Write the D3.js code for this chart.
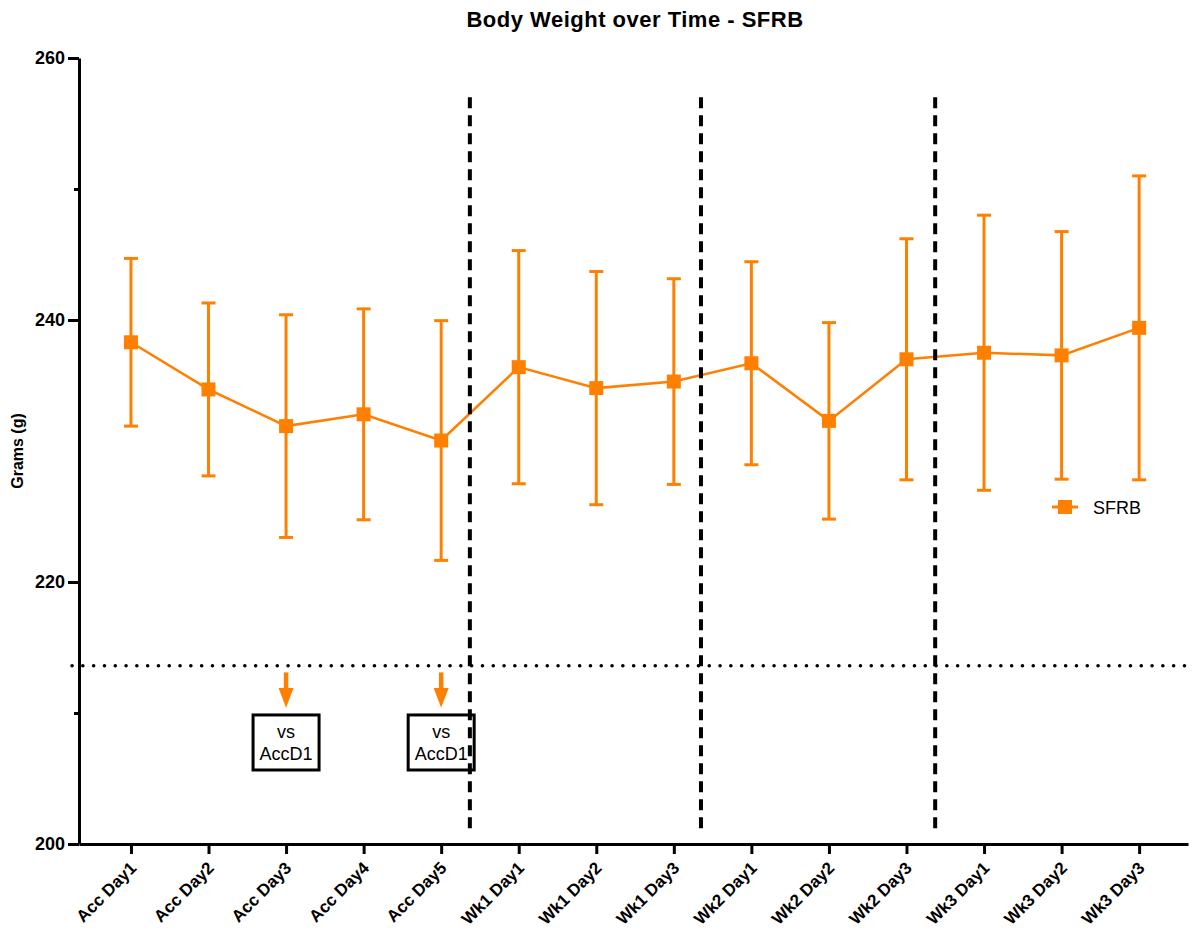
<!DOCTYPE html>
<meta charset="utf-8">
<script src="https://d3js.org/d3.v7.min.js"></script>
<style>
  body { margin: 0; background: #fff; }
  text { font-family: "Liberation Sans", Arial, sans-serif; }
</style>
<body>
<div id="my_dataviz"></div>
<script>

// data
var categories = ["Acc Day1", "Acc Day2", "Acc Day3", "Acc Day4", "Acc Day5",
                  "Wk1 Day1", "Wk1 Day2", "Wk1 Day3",
                  "Wk2 Day1", "Wk2 Day2", "Wk2 Day3",
                  "Wk3 Day1", "Wk3 Day2", "Wk3 Day3"]
var means = [238.3, 234.7, 231.9, 232.8, 230.8, 236.4, 234.8, 235.3, 236.7, 232.3, 237.0, 237.5, 237.3, 239.4]
var errs  = [6.4, 6.6, 8.5, 8.05, 9.15, 8.9, 8.9, 7.85, 7.75, 7.5, 9.2, 10.5, 9.45, 11.6]
var yTicks = [200, 220, 240, 260]
var yMinorTicks = [210, 250]
var seriesName = "SFRB"
// phase separators (position in category units) and reference line
var separators = [4.37, 7.35, 10.37]
var refLine = 213.6
// annotations: category index, label
var notes = [{i: 2, lines: ["vs", "AccD1"]}, {i: 4, lines: ["vs", "AccD1"]}]

var W = 1194, H = 931
var orange = "#ff8000"

var svg = d3.select("#my_dataviz")
  .append("svg")
    .attr("width", W)
    .attr("height", H)

var x = d3.scaleLinear()
  .domain([-0.67, categories.length - 1 + 0.63])
  .range([79, 1188])

var y = d3.scaleLinear()
  .domain([200, 260])
  .range([844, 58])

// title
svg.append("text")
  .attr("x", 635)
  .attr("y", 27)
  .attr("text-anchor", "middle")
  .style("font-size", "22px")
  .style("letter-spacing", "0.5px")
  .style("font-weight", "bold")
  .text("Body Weight over Time - SFRB")

// y axis title
svg.append("text")
  .attr("transform", "translate(23," + y(230) + ") rotate(-90)")
  .attr("text-anchor", "middle")
  .style("font-size", "16px")
  .style("font-weight", "bold")
  .text("Grams (g)")

// reference dotted line
svg.append("line")
  .attr("x1", 72).attr("x2", W)
  .attr("y1", y(refLine)).attr("y2", y(refLine))
  .attr("stroke", "#000")
  .attr("stroke-width", 3.5)
  .attr("stroke-linecap", "round")
  .attr("stroke-dasharray", "0.1,10.7")

// separators
svg.selectAll(".sep")
  .data(separators)
  .enter().append("line")
    .attr("class", "sep")
    .attr("x1", function(d) { return x(d) }).attr("x2", function(d) { return x(d) })
    .attr("y1", y(257)).attr("y2", y(200.8))
    .attr("stroke", "#000")
    .attr("stroke-width", 4)
    .attr("stroke-dasharray", "11,7")

// y axis
var yAxis = svg.append("g")
  .attr("transform", "translate(79,0)")
  .call(d3.axisLeft(y).tickValues(yTicks).tickSize(11).tickPadding(3).tickSizeOuter(0))
yAxis.select(".domain").attr("stroke-width", 3)
yAxis.selectAll(".tick line").attr("stroke-width", 3)
yAxis.selectAll(".tick text")
  .style("font-size", "18px")
  .style("font-weight", "bold")
  .style("font-family", "'Liberation Sans', Arial, sans-serif")
  .attr("fill", "#000")

svg.append("g")
  .attr("transform", "translate(79,0)")
  .call(d3.axisLeft(y).tickValues(yMinorTicks).tickSize(5).tickFormat("").tickSizeOuter(0))
  .call(function(g) { g.select(".domain").remove() })
  .selectAll(".tick line").attr("stroke-width", 3)

// x axis
var xAxis = svg.append("g")
  .attr("transform", "translate(0,844)")
  .call(d3.axisBottom(x)
    .tickValues(d3.range(categories.length))
    .tickFormat(function(i) { return categories[i] })
    .tickSize(10)
    .tickSizeOuter(0))
xAxis.select(".domain").attr("stroke-width", 3)
xAxis.selectAll(".tick line").attr("stroke-width", 3)
xAxis.selectAll(".tick text")
  .style("font-size", "17px")
  .style("font-weight", "bold")
  .style("font-family", "'Liberation Sans', Arial, sans-serif")
  .attr("fill", "#000")
  .attr("text-anchor", "end")
  .attr("dy", null)
  .attr("y", 0)
  .attr("transform", "translate(6,25) rotate(-45)")

// error bars
var eb = svg.append("g").selectAll("g")
  .data(means)
  .enter().append("g")
eb.append("line")
  .attr("x1", function(d, i) { return x(i) }).attr("x2", function(d, i) { return x(i) })
  .attr("y1", function(d, i) { return y(d + errs[i]) })
  .attr("y2", function(d, i) { return y(d - errs[i]) })
  .attr("stroke", orange).attr("stroke-width", 3)
eb.append("line")
  .attr("x1", function(d, i) { return x(i) - 7 }).attr("x2", function(d, i) { return x(i) + 7 })
  .attr("y1", function(d, i) { return y(d + errs[i]) })
  .attr("y2", function(d, i) { return y(d + errs[i]) })
  .attr("stroke", orange).attr("stroke-width", 3)
eb.append("line")
  .attr("x1", function(d, i) { return x(i) - 7 }).attr("x2", function(d, i) { return x(i) + 7 })
  .attr("y1", function(d, i) { return y(d - errs[i]) })
  .attr("y2", function(d, i) { return y(d - errs[i]) })
  .attr("stroke", orange).attr("stroke-width", 3)

// mean line
svg.append("path")
  .datum(means)
  .attr("fill", "none")
  .attr("stroke", orange)
  .attr("stroke-width", 2.5)
  .attr("d", d3.line()
    .x(function(d, i) { return x(i) })
    .y(function(d) { return y(d) }))

// markers
svg.append("g").selectAll("rect")
  .data(means)
  .enter().append("rect")
    .attr("x", function(d, i) { return x(i) - 7 })
    .attr("y", function(d) { return y(d) - 7 })
    .attr("width", 14)
    .attr("height", 14)
    .attr("fill", orange)

// annotations
var ann = svg.append("g").selectAll("g")
  .data(notes)
  .enter().append("g")
ann.append("rect")
  .attr("x", function(d) { return x(d.i) - 33 })
  .attr("y", y(209.85))
  .attr("width", 66)
  .attr("height", y(205.65) - y(209.85))
  .attr("fill", "#fff")
  .attr("stroke", "#000")
  .attr("stroke-width", 3)
ann.append("line")
  .attr("x1", function(d) { return x(d.i) }).attr("x2", function(d) { return x(d.i) })
  .attr("y1", y(213.1)).attr("y2", y(211.6))
  .attr("stroke", orange).attr("stroke-width", 4.5)
ann.append("path")
  .attr("d", function(d) {
    var cx = x(d.i)
    return "M" + (cx - 7.5) + "," + y(211.9) + "L" + (cx + 7.5) + "," + y(211.9) + "L" + cx + "," + y(210.4) + "Z"
  })
  .attr("fill", orange)
ann.each(function(d) {
  var g = d3.select(this)
  d.lines.forEach(function(t, k) {
    g.append("text")
      .attr("x", x(d.i))
      .attr("y", y(209.85) + 23 + k * 22)
      .attr("text-anchor", "middle")
      .style("font-size", "18px")
      .text(t)
  })
})

// separators drawn on top like the original
svg.selectAll(".sep").raise()

// legend
var leg = svg.append("g").attr("transform", "translate(1065,507)")
leg.append("line").attr("x1", -13).attr("x2", 13).attr("stroke", orange).attr("stroke-width", 3)
leg.append("rect").attr("x", -7).attr("y", -7).attr("width", 14).attr("height", 14).attr("fill", orange)
leg.append("text")
  .attr("x", 28)
  .attr("y", 6.5)
  .style("font-size", "18px")
  .text(seriesName)

</script>
</body>
